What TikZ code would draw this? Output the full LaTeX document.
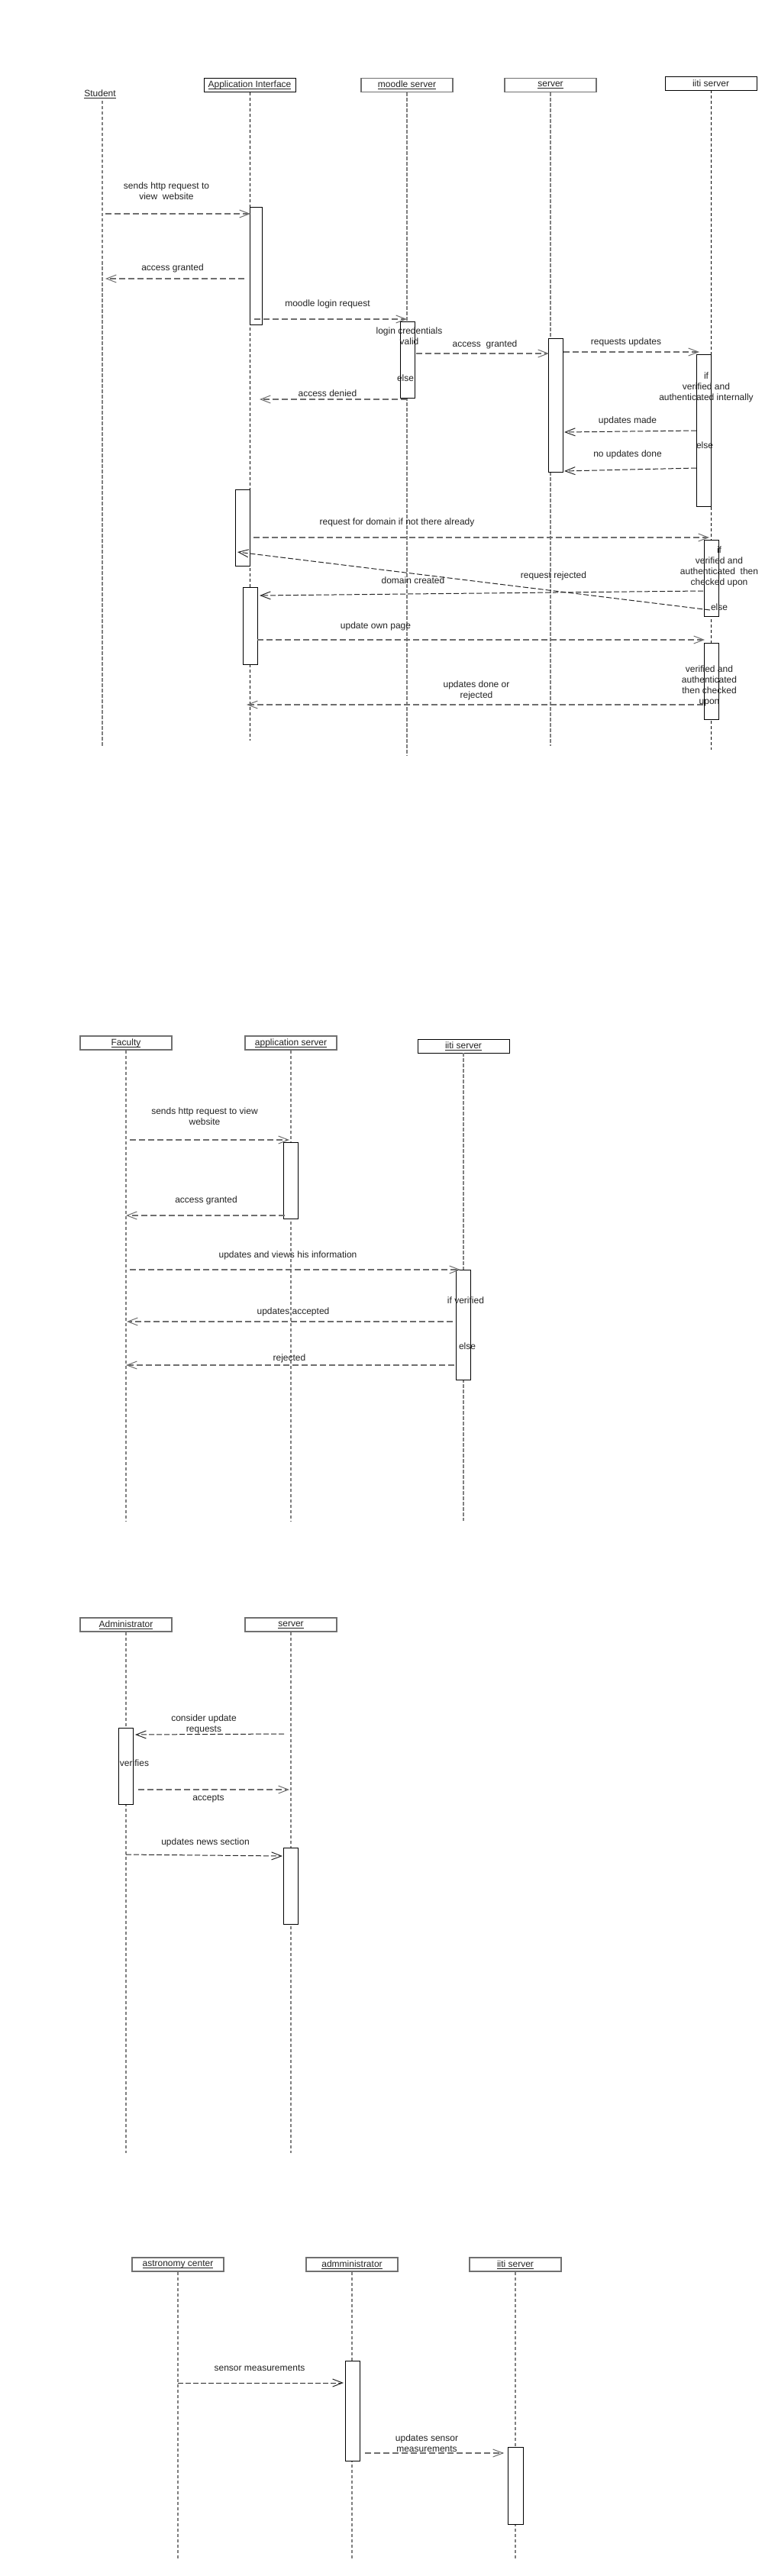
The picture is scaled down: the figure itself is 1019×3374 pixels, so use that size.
\documentclass[tikz,border=0pt]{standalone}
\usepackage{fontspec}
\setmainfont{Liberation Sans}
\usetikzlibrary{arrows.meta}
\definecolor{lifegray}{HTML}{808080}
\definecolor{msggray}{HTML}{6E6E6E}
\definecolor{boxgray}{HTML}{707070}
\definecolor{inkc}{HTML}{222222}
\newcommand{\ulname}[1]{\setbox0=\hbox{#1}\rlap{\rule[-2.2pt]{\wd0}{0.8pt}}\box0}

\begin{document}
\begin{tikzpicture}[x=1pt,y=-1pt,
    head/.style={draw=boxgray,line width=1.4pt,minimum width=120pt,minimum height=18pt,text=inkc},
    headk/.style={draw=black,line width=0.8pt,minimum width=120pt,minimum height=18pt,text=inkc},
    life/.style={draw=lifegray,line width=1.6pt,dash pattern=on 4.5pt off 2.5pt},
    lifek/.style={draw=black,line width=0.8pt,dash pattern=on 4pt off 3pt},
    actbox/.style={draw=black,line width=1pt,fill=white,minimum width=19pt,anchor=north west},
    msg/.style={draw=msggray,line width=1.6pt,dash pattern=on 8pt off 4pt,-{Straight Barb[length=13pt,width=10pt,line width=1pt]}},
    msgk/.style={draw=black!85,line width=1pt,dash pattern=on 7pt off 3pt,-{Straight Barb[length=13pt,width=10pt,line width=1pt]}},
    lbl/.style={align=center,text=inkc}]
    \tikzstyle{every node}+=[inner sep=0pt,font=\fontsize{12}{14}\selectfont]
    \useasboundingbox (0,0) rectangle (1019,3374);
    % student
    \node[text=inkc] (stud) at (131,123) {\ulname{Student}};
    \node[headk] (appif) at (327,111.5) {\ulname{Application Interface}};
    \node[head] (moodle) at (533,111.5) {\ulname{moodle server}};
    \node[head] (srv) at (721,111.5) {\ulname{server}};
    \node[headk] (iiti) at (931,109) {iiti server};
    \coordinate (studtop) at (134,132);
    \coordinate (studend) at (134,977);
    \coordinate (appifend) at (appif |- 0,970);
    \coordinate (moodleend) at (moodle |- 0,990);
    \coordinate (srvend) at (srv |- 0,977);
    \coordinate (iitiend) at (iiti |- 0,982);
    \draw[life] (studtop) -- (studend);
    \draw[lifek] (appif) -- (appifend);
    \draw[life] (moodle) -- (moodleend);
    \draw[life] (srv) -- (srvend);
    \draw[lifek] (iiti) -- (iitiend);
    \node[actbox,minimum width=16pt,minimum height=154pt] (act1) at (327,271) {};
    \node[actbox,minimum height=100pt] (act2) at (524,421) {};
    \node[actbox,minimum height=175pt] (act3) at (718,443) {};
    \node[actbox,minimum height=199pt] (act4) at (912,464) {};
    \node[actbox,minimum height=100pt] (act5) at (308,641) {};
    \node[actbox,minimum height=100pt] (act6) at (922,707) {};
    \node[actbox,minimum height=101pt] (act7) at (318,769) {};
    \node[actbox,minimum height=100pt] (act8) at (922,842) {};
    \coordinate (m1s) at (138,280);  \coordinate (m1t) at (328,280);
    \coordinate (m2s) at (320,365);  \coordinate (m2t) at (138,365);
    \coordinate (m3s) at (333,418);  \coordinate (m3t) at (533,418);
    \coordinate (m4s) at (545,463);  \coordinate (m4t) at (719,463);
    \coordinate (m5s) at (738,461);  \coordinate (m5t) at (916,461);
    \coordinate (m6s) at (912,564);  \coordinate (m6t) at (739,566);
    \coordinate (m7s) at (912,613);  \coordinate (m7t) at (739,617);
    \coordinate (m8s) at (533,523);  \coordinate (m8t) at (340,523);
    \coordinate (m9s) at (332,704);  \coordinate (m9t) at (929,704);
    \coordinate (m10s) at (930,799); \coordinate (m10t) at (311,723);
    \coordinate (m11s) at (921,774); \coordinate (m11t) at (340,780);
    \coordinate (m12s) at (337,838); \coordinate (m12t) at (923,838);
    \coordinate (m13s) at (921,923); \coordinate (m13t) at (323,923);
    \draw[msg] (m1s) -- (m1t);
    \draw[msg] (m2s) -- (m2t);
    \draw[msg] (m3s) -- (m3t);
    \draw[msg] (m4s) -- (m4t);
    \draw[msg] (m5s) -- (m5t);
    \draw[msgk] (m6s) -- (m6t);
    \draw[msgk] (m7s) -- (m7t);
    \draw[msg] (m8s) -- (m8t);
    \draw[msg] (m9s) -- (m9t);
    \draw[msgk] (m10s) -- (m10t);
    \draw[msgk] (m11s) -- (m11t);
    \draw[msg] (m12s) -- (m12t);
    \draw[msg] (m13s) -- (m13t);
    \node[lbl] (l1) at (218,250) {sends http request to\\view~~website};
    \node[lbl] (l2) at (226,351) {access granted};
    \node[lbl] (l3) at (429,398) {moodle login request};
    \node[lbl] (l4) at (536,440) {login credentials\\valid};
    \node[lbl] (l5) at (635,451) {access~~granted};
    \node[lbl] (l6) at (820,448) {requests updates};
    \node[lbl] (l7) at (925,507) {if\\verified and\\authenticated internally};
    \node[lbl] (l8) at (822,551) {updates made};
    \node[lbl] (l9) at (923,583) {else};
    \node[lbl] (l10) at (822,595) {no updates done};
    \node[lbl] (l11) at (531,495) {else};
    \node[lbl] (l12) at (429,515) {access denied};
    \node[lbl] (l13) at (520,684) {request for domain if not there already};
    \node[lbl] (l14) at (942,742) {if\\verified and\\authenticated~~then\\checked upon};
    \node[lbl] (l15) at (942,795) {else};
    \node[lbl] (l16) at (725,754) {request rejected};
    \node[lbl] (l17) at (541,760) {domain created};
    \node[lbl] (l18) at (492,820) {update own page};
    \node[lbl] (l19) at (929,898) {verified and\\authenticated\\then checked\\upon};
    \node[lbl] (l20) at (624,904) {updates done or\\rejected};
    % faculty
    \node[head] (fac) at (165,1366) {\ulname{Faculty}};
    \node[head] (appsrv) at (381,1366) {\ulname{application server}};
    \node[headk] (fiiti) at (607,1370) {\ulname{iiti server}};
    \coordinate (facend) at (fac |- 0,1992);
    \coordinate (appsrvend) at (appsrv |- 0,1992);
    \coordinate (fiitiend) at (fiiti |- 0,1992);
    \draw[life] (fac) -- (facend);
    \draw[life] (appsrv) -- (appsrvend);
    \draw[life] (fiiti) -- (fiitiend);
    \node[actbox,minimum height=100pt] (fact1) at (371,1496) {};
    \node[actbox,minimum height=144pt] (fact2) at (597,1663) {};
    \coordinate (f1s) at (170,1493); \coordinate (f1t) at (379,1493);
    \coordinate (f2s) at (373,1592); \coordinate (f2t) at (165,1592);
    \coordinate (f3s) at (170,1663); \coordinate (f3t) at (603,1663);
    \coordinate (f4s) at (593,1731); \coordinate (f4t) at (166,1731);
    \coordinate (f5s) at (595,1788); \coordinate (f5t) at (165,1788);
    \draw[msg] (f1s) -- (f1t);
    \draw[msg] (f2s) -- (f2t);
    \draw[msg] (f3s) -- (f3t);
    \draw[msg] (f4s) -- (f4t);
    \draw[msg] (f5s) -- (f5t);
    \node[lbl] (fl1) at (268,1462) {sends http request to view\\website};
    \node[lbl] (fl2) at (270,1572) {access granted};
    \node[lbl] (fl3) at (377,1644) {updates and views his information};
    \node[lbl] (fl4) at (610,1703) {if verified};
    \node[lbl] (fl5) at (384,1718) {updates accepted};
    \node[lbl] (fl6) at (612,1763) {else};
    \node[lbl] (fl7) at (379,1779) {rejected};
    % administrator
    \node[head] (adm) at (165,2128) {\ulname{Administrator}};
    \node[head] (asrv) at (381,2128) {\ulname{server}};
    \coordinate (admend) at (adm |- 0,2820);
    \coordinate (asrvend) at (asrv |- 0,2820);
    \draw[life] (adm) -- (admend);
    \draw[life] (asrv) -- (asrvend);
    \node[actbox,minimum height=100pt] (aact1) at (155,2263) {};
    \node[actbox,minimum height=100pt] (aact2) at (371,2420) {};
    \coordinate (d1s) at (372,2271); \coordinate (d1t) at (177,2272);
    \coordinate (d2s) at (181,2344); \coordinate (d2t) at (379,2344);
    \coordinate (d3s) at (165,2429); \coordinate (d3t) at (370,2431);
    \draw[msgk] (d1s) -- (d1t);
    \draw[msg] (d2s) -- (d2t);
    \draw[msgk] (d3s) -- (d3t);
    \node[lbl] (dl1) at (267,2258) {consider update\\requests};
    \node[lbl] (dl2) at (176,2309) {verifies};
    \node[lbl] (dl3) at (273,2356) {accepts};
    \node[lbl] (dl4) at (269,2413) {updates news section};
    % astronomy
    \node[head] (astro) at (233,2966) {\ulname{astronomy center}};
    \node[head] (admm) at (461,2966) {\ulname{admministrator}};
    \node[head] (siiti) at (675,2966) {\ulname{iiti server}};
    \coordinate (astroend) at (astro |- 0,3353);
    \coordinate (admmend) at (admm |- 0,3353);
    \coordinate (siitiend) at (siiti |- 0,3353);
    \draw[life] (astro) -- (astroend);
    \draw[life] (admm) -- (admmend);
    \draw[life] (siiti) -- (siitiend);
    \node[actbox,minimum height=131pt] (sact1) at (452,3092) {};
    \node[actbox,minimum width=20pt,minimum height=101pt] (sact2) at (665,3205) {};
    \coordinate (c1s) at (233,3121); \coordinate (c1t) at (450,3121);
    \coordinate (c2s) at (478,3213); \coordinate (c2t) at (660,3213);
    \draw[msgk] (c1s) -- (c1t);
    \draw[msg] (c2s) -- (c2t);
    \node[lbl] (cl1) at (340,3102) {sensor measurements};
    \node[lbl] (cl2) at (559,3200) {updates sensor\\measurements};
\end{tikzpicture}
\end{document}
